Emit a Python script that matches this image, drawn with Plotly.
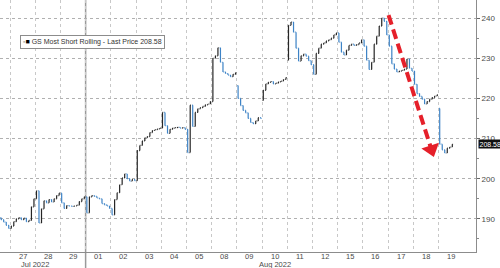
import plotly.graph_objects as go

# ---------------- data ----------------
day_labels = ["27", "28", "29", "01", "02", "03", "04", "05", "08", "09",
              "10", "11", "12", "15", "16", "17", "18", "19"]
month_labels = ["Jul 2022", "Aug 2022"]
month_label_pos = [1.0, 10.5]          # day-index positions of month captions
first_aug_day = 3                      # index of "01" (Aug 1)

jul26_tail = [190.3, 189.8, 189.2, 188.4, 187.6]
jul26_open = 190.5
jul27 = [188.2, 189.3, 190.0, 190.3, 189.8, 190.2, 189.3, 189.6, 193.0, 195.0]
jul28 = [197.0, 189.0, 192.5, 194.5, 194.0, 194.8, 194.2, 195.0, 195.8, 196.4]
jul29 = [194.0, 192.6, 193.3, 193.2, 193.1, 193.2, 193.4, 194.3, 195.0, 195.5]
aug01 = [191.5, 195.5, 195.8, 195.6, 195.2, 195.0, 193.8, 193.5, 193.2, 192.6]
aug02 = [191.0, 194.8, 196.5, 198.5, 200.2, 201.2, 200.0, 199.4, 199.8, 199.5]
aug03 = [207.0, 208.3, 209.4, 210.2, 210.5, 211.5, 212.0, 212.2, 212.4, 212.6]
aug04 = [216.5, 213.2, 211.3, 212.3, 212.6, 212.7, 212.8, 212.6, 212.7, 212.3]
aug05 = [206.5, 218.3, 213.0, 216.5, 217.4, 217.7, 218.0, 218.4, 218.6, 219.2]
aug08 = [230.0, 230.6, 232.6, 229.0, 226.6, 226.2, 225.8, 225.4, 226.0, 226.4]
aug09 = [220.0, 218.2, 217.0, 216.4, 215.0, 214.0, 213.7, 214.4, 215.2, 215.0]
aug10 = [222.0, 223.6, 224.0, 224.2, 223.6, 223.8, 224.1, 224.3, 224.7, 225.2]
aug11 = [238.2, 239.0, 236.5, 232.5, 229.3, 230.6, 231.0, 230.5, 229.4, 228.4]
aug12 = [226.0, 231.2, 232.5, 233.5, 233.8, 234.3, 234.6, 235.0, 235.8, 236.3]
aug15 = [234.0, 231.5, 230.8, 232.0, 233.2, 233.5, 233.2, 233.4, 233.8, 234.6]
aug16 = [233.0, 229.5, 227.2, 229.0, 233.5, 235.5, 238.0, 240.0, 239.2, 235.8]
aug17 = [233.0, 228.6, 227.3, 226.6, 226.8, 227.0, 227.3, 229.8, 227.5, 226.8]
aug18 = [223.5, 221.2, 220.5, 219.8, 218.6, 219.2, 219.8, 220.2, 220.6, 220.9]
aug19 = [208.6, 207.2, 206.4, 207.6, 207.9, 208.58]

gap_opens = {"09": 223.2, "10": 219.5, "11": 229.5, "19": 217.5}
last_price = 208.58

# arrow annotation (tail and head, in chart coordinates)
arrow_tail = (15.02, 240.75)
arrow_head = (16.72, 207.3)

# ---------------- build bars ----------------
SLOTS = 10
days = [jul27, jul28, jul29, aug01, aug02, aug03, aug04, aug05, aug08, aug09,
        aug10, aug11, aug12, aug15, aug16, aug17, aug18, aug19]

xs, op, hi, lo, cl = [], [], [], [], []
prev = jul26_open
for i, v in enumerate(jul26_tail):
    g = SLOTS - len(jul26_tail) + i
    xs.append(-1 + (g + 0.5) / SLOTS)
    op.append(prev); cl.append(v)
    hi.append(max(prev, v)); lo.append(min(prev, v))
    prev = v
for k, (lab, vals) in enumerate(zip(day_labels, days)):
    for i, v in enumerate(vals):
        o = gap_opens.get(lab, prev) if i == 0 else prev
        xs.append(k + (i + 0.5) / SLOTS)
        op.append(o); cl.append(v)
        hi.append(max(o, v)); lo.append(min(o, v))
        prev = v

BLUE = "#3d83c6"
DARK = "#262626"
RED = "#e5202a"
FONT = "Liberation Sans"
TXT = "#4a4a4a"

fig = go.Figure()
fig.add_trace(go.Ohlc(
    x=xs, open=op, high=hi, low=lo, close=cl,
    increasing=dict(line=dict(color=DARK, width=1.2)),
    decreasing=dict(line=dict(color=BLUE, width=1.2)),
    tickwidth=0.3, showlegend=False, hoverinfo="skip"))

# red dashed arrow
fig.add_trace(go.Scatter(
    x=[arrow_tail[0], arrow_head[0]], y=[arrow_tail[1], arrow_head[1]],
    mode="lines", line=dict(color=RED, width=4, dash="10px,5px"),
    showlegend=False, hoverinfo="skip"))
fig.add_trace(go.Scatter(
    x=[arrow_head[0]], y=[arrow_head[1]], mode="markers",
    marker=dict(symbol="triangle-down", size=16, color=RED, angle=-18,
                line=dict(width=0)),
    showlegend=False, hoverinfo="skip"))

n = len(day_labels)
fig.update_layout(
    width=500, height=268,
    margin=dict(l=0, r=24, t=0, b=16),
    paper_bgcolor="white", plot_bgcolor="white",
    font=dict(family=FONT, color=TXT),
    xaxis=dict(
        range=[-0.397, 18.49], rangeslider=dict(visible=False),
        tickmode="array", tickvals=list(range(n)), showticklabels=False,
        ticks="", showgrid=True, gridcolor="#c8c8c8", griddash="dot", gridwidth=1,
        zeroline=False, showline=True, linecolor="#8c8c8c", linewidth=1,
    ),
    yaxis=dict(
        side="right", range=[181.75, 244.5],
        tickmode="array", tickvals=[190, 200, 210, 220, 230, 240],
        ticks="outside", ticklen=3, tickcolor="#666",
        showgrid=True, gridcolor="#b0b0b0", griddash="dot", zeroline=False,
        showline=True, linecolor="#8c8c8c", linewidth=1,
        tickfont=dict(size=8, color=TXT, family=FONT),
        minor=dict(tickmode="array", tickvals=[185, 195, 205, 215, 225, 235],
                   ticks="outside", ticklen=2, tickcolor="#888", showgrid=False),
    ),
)

# month separator line (Aug 1)
fig.add_shape(type="line", xref="x", yref="paper",
              x0=first_aug_day, x1=first_aug_day, y0=-0.07, y1=1,
              line=dict(color="#9a9a9a", width=1.5), layer="below")

# day labels (centred in each day's slot)
for k, lab in enumerate(day_labels):
    fig.add_annotation(x=k + 0.5, y=-4.5 / 252, xref="x", yref="paper", text=lab,
                       showarrow=False, xanchor="center", yanchor="middle",
                       font=dict(size=7.5, color=TXT, family=FONT))

# month captions
for lab, pos in zip(month_labels, month_label_pos):
    fig.add_annotation(x=pos, y=-12.5 / 252, xref="x", yref="paper", text=lab,
                       showarrow=False, xanchor="center", yanchor="middle",
                       font=dict(size=7.5, color=TXT, family=FONT))

# legend box
fig.add_annotation(
    x=20 / 476, y=1 - 35 / 252, xref="paper", yref="paper",
    xanchor="left", yanchor="top", showarrow=False,
    text="<span style='color:#b5b5b5'>▪</span><span style='color:#000'>■</span> GS Most Short Rolling - Last Price " + f"{last_price:.2f}",
    font=dict(size=7, color="#333", family=FONT),
    bgcolor="white", bordercolor="#8c8c8c", borderwidth=1, borderpad=2)

# last price tag
fig.add_annotation(
    x=1, y=last_price, xref="paper", yref="y", xanchor="left", yanchor="middle",
    xshift=2, showarrow=False, text=f"{last_price:.2f}",
    font=dict(size=7, color="white", family=FONT),
    bgcolor="#111", borderpad=0.5)

fig.write_html("out.html")
